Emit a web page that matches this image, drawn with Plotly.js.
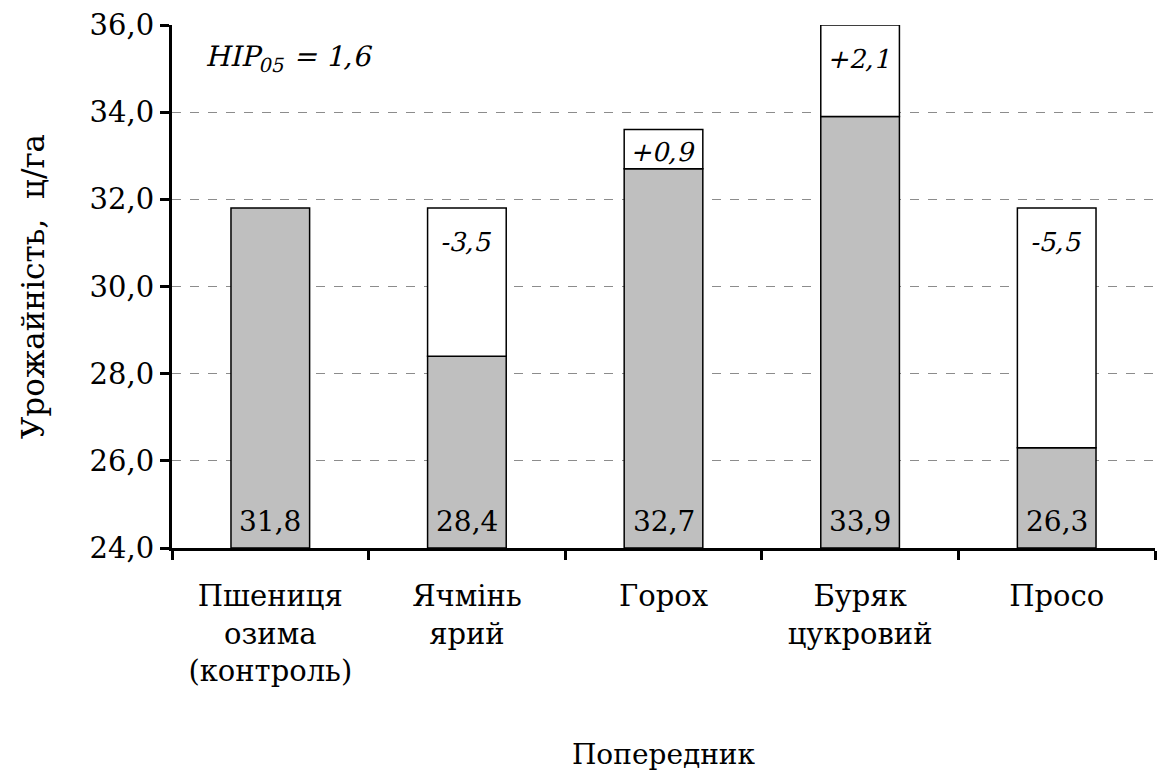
<!DOCTYPE html>
<html>
<head>
<meta charset="utf-8">
<script src="https://cdn.plot.ly/plotly-3.0.1.min.js"></script>
<style>
html,body{margin:0;padding:0;background:#fff;}
#chart{width:1157px;height:780px;}
.slanted text.annotation-text{transform-box:fill-box;transform-origin:center;transform:skewX(-13deg);}
</style>
</head>
<body>
<div id="chart"></div>
<script>
const categories = ["Пшениця<br>озима<br>(контроль)", "Ячмінь<br>ярий", "Горох", "Буряк<br>цукровий", "Просо"];
const yields = [31.8, 28.4, 32.7, 33.9, 26.3];
const yieldLabels = ["31,8", "28,4", "32,7", "33,9", "26,3"];
const whiteTops = [null, 31.8, 33.6, 36.0, 31.8];
const diffLabels = [null, "-3,5", "+0,9", "+2,1", "-5,5"];
const yTickVals = [24, 26, 28, 30, 32, 34, 36];
const yTickText = ["24,0", "26,0", "28,0", "30,0", "32,0", "34,0", "36,0"];

const FONT = "DejaVu Serif";
const Y0 = 24, Y1 = 36, MT = 25, MB = 232, H = 780;
const pxPerUnit = (H - MT - MB) / (Y1 - Y0);

const idx = whiteTops.map((t, i) => i).filter(i => whiteTops[i] !== null);

const grayTrace = {
  type: "bar",
  x: categories,
  y: yields.map(v => v - Y0),
  base: Y0,
  width: 0.4,
  marker: {color: "#bfbfbf", line: {color: "#000", width: 1.5}},
  hoverinfo: "skip"
};
const whiteTrace = {
  type: "bar",
  x: idx.map(i => categories[i]),
  y: idx.map(i => whiteTops[i] - yields[i]),
  base: idx.map(i => yields[i]),
  width: 0.4,
  marker: {color: "#ffffff", line: {color: "#000", width: 1.5}},
  hoverinfo: "skip"
};

const annotations = [];
const slanted = [];
categories.forEach((c, i) => {
  annotations.push({
    x: c, y: Y0, xref: "x", yref: "y", yanchor: "bottom", xanchor: "center",
    yshift: 8, text: yieldLabels[i], showarrow: false,
    font: {family: FONT, size: 28, color: "#000"}
  });
});
idx.forEach(i => {
  const hpx = (whiteTops[i] - yields[i]) * pxPerUnit;
  slanted.push(annotations.length);
  annotations.push({
    x: categories[i], y: whiteTops[i], xref: "x", yref: "y", yanchor: "middle", xanchor: "center",
    yshift: -Math.min(34, hpx * 0.57), text: diffLabels[i], showarrow: false,
    font: {family: FONT, size: 26, color: "#000"}
  });
});
slanted.push(annotations.length);
annotations.push({
  xref: "paper", yref: "paper", x: 0.034, y: 0.935, xanchor: "left", yanchor: "middle",
  text: "HIP<sub>05</sub> = 1,6", showarrow: false,
  font: {family: FONT, size: 28, color: "#000"}
});

const layout = {
  width: 1157, height: H,
  margin: {l: 172, r: 2, t: MT, b: MB},
  paper_bgcolor: "#fff", plot_bgcolor: "#fff",
  barmode: "overlay",
  showlegend: false,
  font: {family: FONT, size: 29, color: "#000"},
  xaxis: {
    type: "category",
    categoryorder: "array", categoryarray: categories,
    showgrid: false,
    showline: true, linecolor: "#000", linewidth: 3,
    ticks: "outside", tickson: "boundaries", ticklen: 9, tickwidth: 3, tickcolor: "#000",
    ticklabelstandoff: 20,
    tickfont: {family: FONT, size: 29, color: "#000"},
    title: {text: "Попередник", font: {family: FONT, size: 28, color: "#000"}, standoff: 58},
    fixedrange: true
  },
  yaxis: {
    range: [Y0, Y1],
    tickvals: yTickVals, ticktext: yTickText,
    showgrid: true, gridcolor: "#8c8c8c", gridwidth: 1, griddash: "dash",
    showline: true, linecolor: "#000", linewidth: 3,
    ticks: "outside", ticklen: 9, tickwidth: 3, tickcolor: "#000",
    tickfont: {family: FONT, size: 29, color: "#000"},
    title: {text: "Урожайність,&nbsp; ц/га", font: {family: FONT, size: 31, color: "#000"}, standoff: 36},
    zeroline: false,
    fixedrange: true
  },
  annotations: annotations
};

Plotly.newPlot("chart", [grayTrace, whiteTrace], layout, {displayModeBar: false, staticPlot: true}).then(gd => {
  gd.querySelectorAll("g.annotation").forEach(g => {
    const k = Number(g.getAttribute("data-index"));
    if (slanted.includes(k)) g.classList.add("slanted");
  });
});
</script>
</body>
</html>
